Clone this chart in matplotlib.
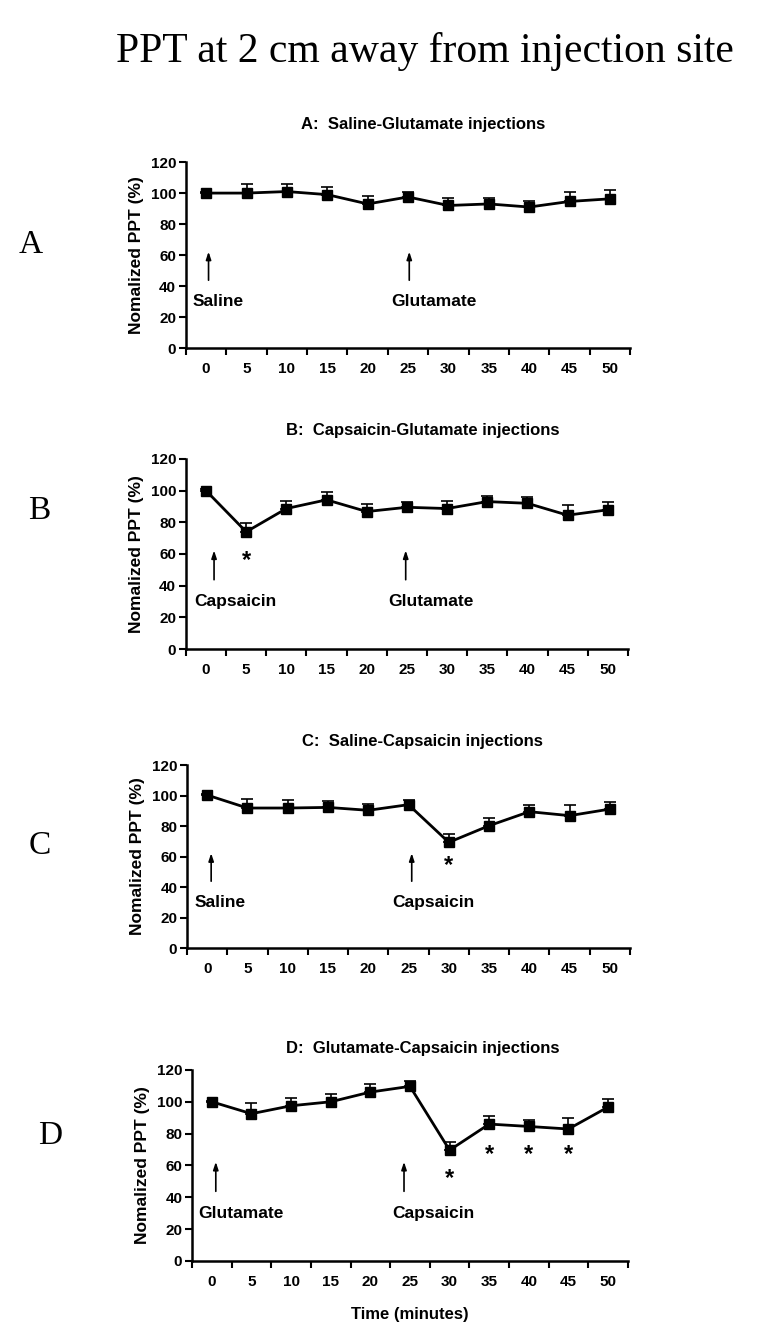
import matplotlib.pyplot as plt
import numpy as np

plt.rcParams['font.family'] = 'Liberation Sans'
plt.rcParams['font.weight'] = 'bold'

times = [0, 5, 10, 15, 20, 25, 30, 35, 40, 45, 50]

a_vals = [100, 100, 101, 99, 93, 97.5, 92, 93, 91, 94.6, 96.3]
a_err = [0.5, 6, 5, 5, 5, 3.5, 5, 4, 4, 6, 5.4]

b_vals = [100, 74, 88.7, 94.2, 86.8, 89.5, 88.7, 93.1, 92, 84.5, 87.9]
b_err = [1, 5.4, 5, 5, 4.8, 3.2, 4.8, 3.8, 4.3, 6.5, 5.2]

c_vals = [100.3, 91.8, 91.8, 92.2, 90.3, 94, 69.3, 80.2, 89.4, 86.8, 91.1]
c_err = [0.5, 6, 5.5, 4.2, 3.9, 3.3, 5.2, 5.3, 4.4, 7, 4.4]

d_vals = [100, 92.5, 97.5, 100, 106.1, 109.7, 69.6, 86, 84.5, 82.9, 96.7]
d_err = [0.5, 6.5, 5.1, 5.1, 5.1, 3.6, 5.1, 5, 4, 6.7, 4.8]

panels = [
    dict(letter='A', title='A:  Saline-Glutamate injections', vals=a_vals, err=a_err,
         first='Saline', second='Glutamate', stars=[], star_y=[]),
    dict(letter='B', title='B:  Capsaicin-Glutamate injections', vals=b_vals, err=b_err,
         first='Capsaicin', second='Glutamate', stars=[1], star_y=[56]),
    dict(letter='C', title='C:  Saline-Capsaicin injections', vals=c_vals, err=c_err,
         first='Saline', second='Capsaicin', stars=[6], star_y=[54]),
    dict(letter='D', title='D:  Glutamate-Capsaicin injections', vals=d_vals, err=d_err,
         first='Glutamate', second='Capsaicin', stars=[6, 7, 8, 9], star_y=[52, 67, 67, 67]),
]

# axes rectangles [left, bottom, width, height]
rects = [
    [0.244, 0.741, 0.583, 0.1384],
    [0.244, 0.5171, 0.580, 0.1414],
    [0.2454, 0.2946, 0.5814, 0.1362],
    [0.252, 0.0618, 0.572, 0.1421],
]
letter_pos = [(0.040, 0.818), (0.052, 0.620), (0.052, 0.371), (0.066, 0.155)]
title_y = [0.907, 0.680, 0.448, 0.220]
arrow_x = [(0.56, 5.53), (0.70, 5.47), (0.60, 5.58), (0.60, 5.35)]
label_x = [(0.79, 6.14), (1.24, 6.1), (0.82, 6.12), (1.23, 6.1)]

fig = plt.figure(figsize=(7.62, 13.44), dpi=100)
fig.text(0.558, 0.962, 'PPT at 2 cm away from injection site', ha='center', va='center',
         fontsize=30, family='Liberation Serif', fontweight='normal')

x = np.arange(len(times)) + 0.5

for i, p in enumerate(panels):
    ax = fig.add_axes(rects[i])
    lower = np.zeros(len(p['err']))
    ax.errorbar(x, p['vals'], yerr=[lower, p['err']], color='black', lw=2,
                marker='s', markersize=6.5, capsize=4.5, elinewidth=1.2, capthick=1.2)
    ax.set_xlim(0, 11)
    ax.set_ylim(0, 120)
    ax.set_yticks(range(0, 121, 20))
    ax.set_xticks(range(0, 12))
    ax.set_xticklabels([])
    ax.set_xticks(x, minor=True)
    ax.set_xticklabels([str(t) for t in times], minor=True)
    ax.tick_params(axis='x', which='major', direction='out', length=5, width=1.5)
    ax.tick_params(axis='x', which='minor', length=0, pad=10, labelsize=11)
    ax.tick_params(axis='y', direction='out', length=5, width=1.5, labelsize=11, pad=2)
    for s in ['top', 'right']:
        ax.spines[s].set_visible(False)
    for s in ['left', 'bottom']:
        ax.spines[s].set_linewidth(1.8)
    ax.set_ylabel('Nomalized PPT (%)', fontsize=12.5, fontweight='bold', labelpad=5)

    for ax_x in arrow_x[i]:
        ax.annotate('', xy=(ax_x, 64), xytext=(ax_x, 42),
                    arrowprops=dict(arrowstyle='-|>,head_length=0.45,head_width=0.15',
                                    color='black', lw=1.2))
    ax.text(label_x[i][0], 30, p['first'], ha='center', va='center', fontsize=12.5)
    ax.text(label_x[i][1], 30, p['second'], ha='center', va='center', fontsize=12.5)
    for si, sy in zip(p['stars'], p['star_y']):
        ax.text(x[si], sy, '*', ha='center', va='center', fontsize=17)

    fig.text(0.555, title_y[i], p['title'], ha='center', va='center', fontsize=12)
    fig.text(letter_pos[i][0], letter_pos[i][1], p['letter'], ha='center', va='center',
             fontsize=24, family='Liberation Serif', fontweight='normal')

    if i == 3:
        ax.set_xlabel('Time (minutes)', fontsize=12, fontweight='bold', labelpad=13)

fig.savefig('out.png', dpi=100)
